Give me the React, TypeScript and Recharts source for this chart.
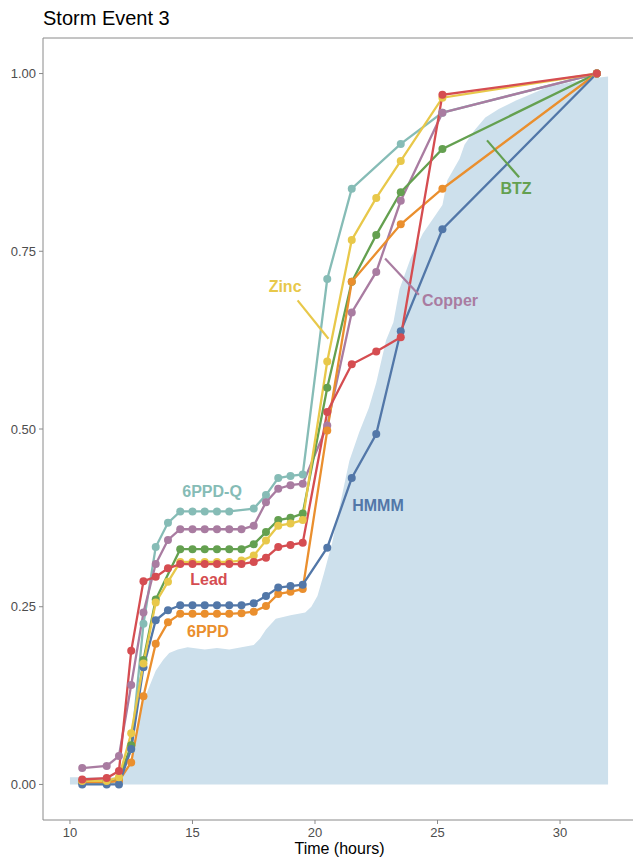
import {
  ComposedChart,
  Area,
  Line,
  XAxis,
  YAxis,
  ReferenceDot,
  ReferenceLine,
} from "recharts";

// sampling times (hours) shared by the pollutant series
const TIMES = [
  10.5, 11.5, 12, 12.5, 13, 13.5, 14, 14.5, 15, 15.5, 16, 16.5, 17, 17.5, 18,
  18.5, 19, 19.5, 20.5, 21.5, 22.5, 23.5, 25.2, 31.5,
];

const PPDQ = [
  0.003, 0.003, 0.006, 0.05, 0.226, 0.334, 0.368, 0.384, 0.384, 0.384, 0.384,
  0.384, null, 0.388, 0.407, 0.431, 0.434, 0.436, 0.711, 0.838, null, 0.901,
  0.945, 1.0,
];
const COPPER = [
  0.023, 0.026, 0.04, 0.14, 0.242, 0.31, 0.344, 0.359, 0.359, 0.359, 0.359,
  0.359, 0.359, 0.364, 0.397, 0.416, 0.421, 0.423, 0.505, 0.664, 0.721, 0.821,
  0.945, 1.0,
];
const BTZ = [
  0.005, 0.005, 0.008, 0.055, 0.175, 0.26, null, 0.331, 0.331, 0.331, 0.331,
  0.331, 0.331, 0.338, 0.355, 0.372, 0.375, 0.381, 0.558, 0.707, 0.773, 0.833,
  0.894, 1.0,
];
const ZINC = [
  0.005, 0.005, 0.01, 0.072, 0.17, 0.256, 0.285, 0.313, 0.313, 0.313, 0.313,
  0.313, 0.315, 0.322, 0.343, 0.364, 0.367, 0.372, 0.595, 0.766, 0.825, 0.877,
  0.966, 1.0,
];
const LEAD = [
  0.007, 0.009, 0.019, 0.188, 0.286, 0.292, 0.304, 0.31, 0.31, 0.31, 0.31,
  0.31, 0.31, 0.313, 0.319, 0.334, 0.337, 0.34, 0.524, 0.591, 0.609, 0.629,
  0.97, 1.0,
];
const HMMM = [
  0, 0, 0, 0.05, 0.165, 0.231, 0.245, 0.252, 0.252, 0.252, 0.252, 0.252,
  0.252, 0.255, 0.265, 0.277, 0.279, 0.281, 0.333, 0.431, 0.493, 0.6375,
  0.781, 1.0,
];
const PPD = [
  0.003, 0.003, 0.005, 0.031, 0.124, 0.198, 0.228, 0.24, 0.24, 0.24, 0.24,
  0.24, 0.241, 0.243, 0.251, 0.268, 0.271, 0.275, 0.498, 0.707, null, 0.788,
  0.838, 1.0,
];

// cumulative flow shading
const FLOW_TIME = [
  10.0, 11.9, 12.05, 12.3, 12.55, 12.75, 12.9, 13.15, 13.5, 13.8, 14.05, 14.4,
  14.8, 15.5, 16.0, 16.5, 17.0, 17.5, 17.75, 18.0, 18.4, 19.0, 19.6, 19.85,
  20.1, 20.35, 20.7, 21.0, 21.4, 21.8, 22.2, 22.5, 22.9, 23.2, 23.45, 23.9,
  24.4, 24.9, 25.2, 25.4, 25.9, 26.1, 26.5, 26.95, 27.5, 28.2, 29.5, 31.0,
  31.96,
];
const FLOW = [
  0.01, 0.01, 0.012, 0.02, 0.04, 0.08, 0.11, 0.13, 0.16, 0.175, 0.185, 0.19,
  0.193, 0.19, 0.192, 0.19, 0.193, 0.196, 0.205, 0.218, 0.233, 0.238, 0.242,
  0.25, 0.265, 0.295, 0.34, 0.39, 0.455, 0.495, 0.53, 0.565, 0.625, 0.65,
  0.697, 0.74, 0.775, 0.8, 0.815, 0.85, 0.88, 0.9, 0.92, 0.938, 0.95, 0.962,
  0.981, 0.992, 0.996,
];

const X_TICKS = [10, 15, 20, 25, 30];
const Y_TICKS = [0, 0.25, 0.5, 0.75, 1];

const SERIES = [
  { key: "ppdq", name: "6PPD-Q", values: PPDQ, color: "#86BCB6" },
  { key: "copper", name: "Copper", values: COPPER, color: "#A97CA1" },
  { key: "btz", name: "BTZ", values: BTZ, color: "#64A050" },
  { key: "ppd", name: "6PPD", values: PPD, color: "#EA8F2E" },
  { key: "hmmm", name: "HMMM", values: HMMM, color: "#5277A8" },
  { key: "zinc", name: "Zinc", values: ZINC, color: "#E8C84A" },
  { key: "lead", name: "Lead", values: LEAD, color: "#D54D51" },
];

// direct labels: [text x, text y, leader line or null]
const LABELS = [
  { key: "ppdq", x: 15.8, y: 0.413, line: null },
  { key: "lead", x: 15.67, y: 0.288, line: null },
  { key: "ppd", x: 15.63, y: 0.215, line: null },
  { key: "hmmm", x: 22.57, y: 0.392, line: null },
  { key: "zinc", x: 18.78, y: 0.7, line: [19.29, 0.681, 20.55, 0.627] },
  { key: "copper", x: 25.51, y: 0.681, line: [22.86, 0.74, 24.24, 0.689] },
  { key: "btz", x: 28.2, y: 0.838, line: [27.02, 0.906, 28.33, 0.854] },
];

function buildRows() {
  const rows = new Map<number, any>();
  const row = (t: number) => {
    if (!rows.has(t)) rows.set(t, { t });
    return rows.get(t);
  };
  FLOW_TIME.forEach((t, i) => {
    row(t).flow = FLOW[i];
  });
  SERIES.forEach((s) => {
    TIMES.forEach((t, i) => {
      row(t)[s.key] = s.values[i];
    });
  });
  return [...rows.values()].sort((a, b) => a.t - b.t);
}

const AXIS_GRAY = "#8a8a8a";

export default function App() {
  const data = buildRows();
  const byKey = Object.fromEntries(SERIES.map((s) => [s.key, s]));

  return (
    <div
      style={{
        position: "absolute",
        left: 0,
        top: 0,
        width: 633,
        height: 857,
        overflow: "hidden",
        background: "#fff",
        fontFamily: "'Liberation Sans', Arial, sans-serif",
      }}
    >
      <ComposedChart
        width={640}
        height={857}
        data={data}
        margin={{ top: 38, right: 4, bottom: 0, left: 0 }}
      >
        <XAxis
          type="number"
          dataKey="t"
          domain={[8.9, 33.1]}
          ticks={X_TICKS}
          allowDataOverflow
          height={37}
          stroke={AXIS_GRAY}
          tickSize={4}
          tickMargin={4}
          tick={{ fontSize: 13, fill: "#4d4d4d" }}
        />
        <YAxis
          type="number"
          domain={[-0.05, 1.05]}
          ticks={Y_TICKS}
          allowDataOverflow
          width={43}
          stroke={AXIS_GRAY}
          tickSize={4}
          tickMargin={3}
          tick={{ fontSize: 13, fill: "#4d4d4d" }}
          tickFormatter={(v: number) => v.toFixed(2)}
        />
        <ReferenceLine y={1.05} stroke={AXIS_GRAY} strokeWidth={1} />

        <Area
          dataKey="flow"
          type="linear"
          stroke="none"
          fill="#CDE0EC"
          fillOpacity={1}
          baseValue={0}
          connectNulls
          isAnimationActive={false}
        />

        {SERIES.map((s) => (
          <Line
            key={s.key + "-line"}
            dataKey={s.key}
            type="linear"
            stroke={s.color}
            strokeWidth={2.3}
            dot={false}
            activeDot={false}
            connectNulls
            isAnimationActive={false}
          />
        ))}
        {SERIES.map((s) => (
          <Line
            key={s.key + "-pts"}
            dataKey={s.key}
            type="linear"
            stroke="none"
            dot={{ r: 4, fill: s.color, stroke: "none" }}
            activeDot={false}
            connectNulls
            isAnimationActive={false}
          />
        ))}

        {LABELS.filter((l) => l.line).map((l) => (
          <ReferenceLine
            key={l.key + "-lead"}
            segment={[
              { x: l.line![0], y: l.line![1] },
              { x: l.line![2], y: l.line![3] },
            ]}
            stroke={byKey[l.key].color}
            strokeWidth={2.2}
          />
        ))}
        {LABELS.map((l) => (
          <ReferenceDot
            key={l.key + "-label"}
            x={l.x}
            y={l.y}
            r={0}
            fill="none"
            stroke="none"
            label={{
              value: byKey[l.key].name,
              position: "center",
              fill: byKey[l.key].color,
              fontSize: 16,
              fontWeight: "bold",
            }}
          />
        ))}
      </ComposedChart>

      <svg
        width={633}
        height={857}
        style={{ position: "absolute", left: 0, top: 0, pointerEvents: "none" }}
      >
        <text x={43} y={25} fontSize={20} fill="#000">
          Storm Event 3
        </text>
        <text x={339.5} y={854} fontSize={16} fill="#000" textAnchor="middle">
          Time (hours)
        </text>
      </svg>
    </div>
  );
}
